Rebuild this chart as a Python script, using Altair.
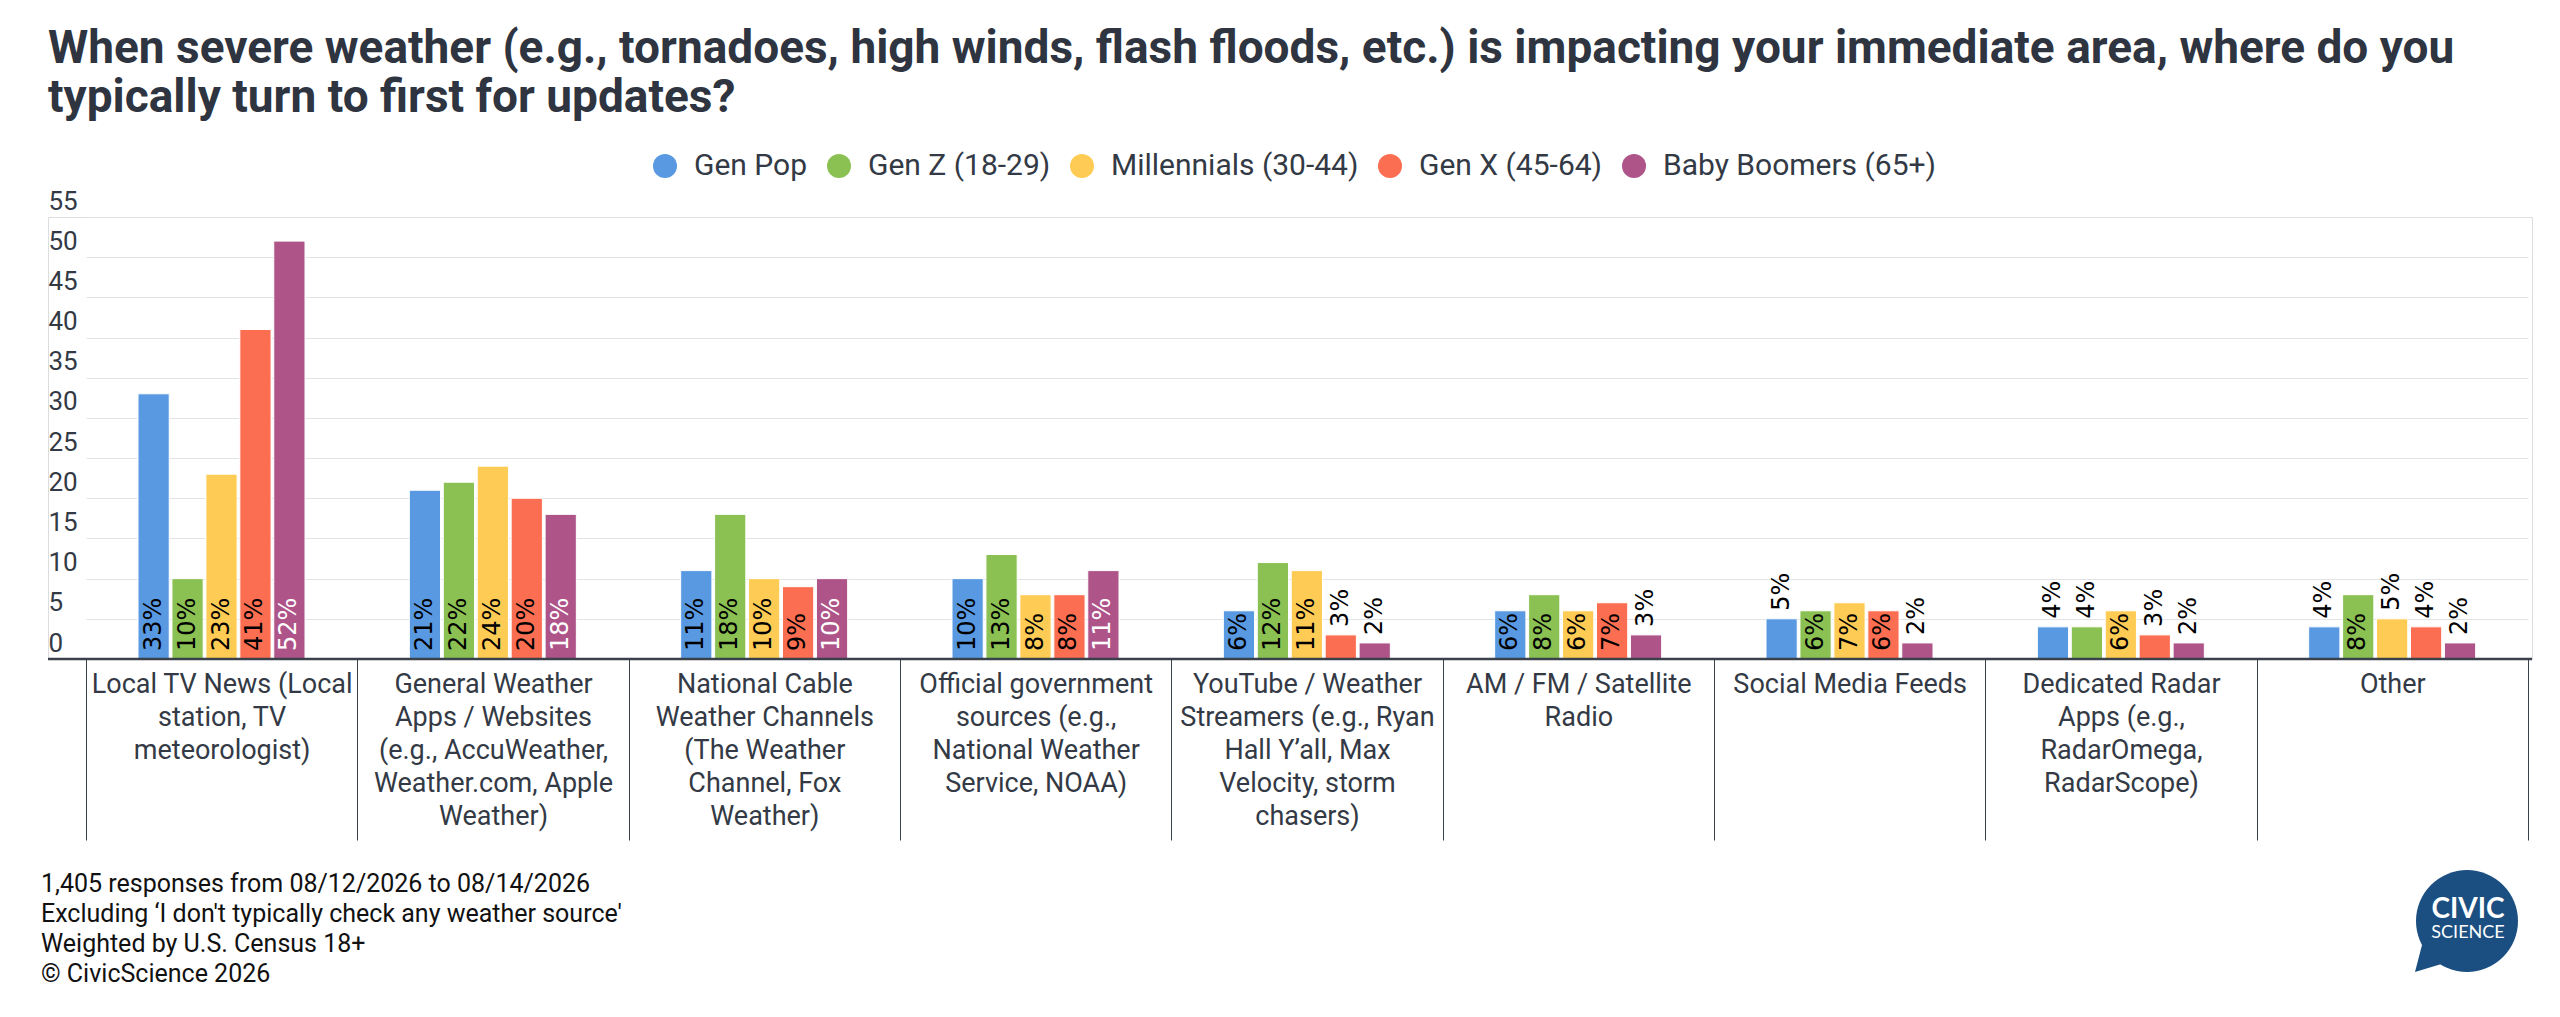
import json
import altair as alt
import pandas as pd

# ---------------- data ----------------
title_lines = [
    "When severe weather (e.g., tornadoes, high winds, flash floods, etc.) is impacting your immediate area, where do you",
    "typically turn to first for updates?",
]

categories = [
    "Local TV News (Local station, TV meteorologist)",
    "General Weather Apps / Websites (e.g., AccuWeather, Weather.com, Apple Weather)",
    "National Cable Weather Channels (The Weather Channel, Fox Weather)",
    "Official government sources (e.g., National Weather Service, NOAA)",
    "YouTube / Weather Streamers (e.g., Ryan Hall Y’all, Max Velocity, storm chasers)",
    "AM / FM / Satellite Radio",
    "Social Media Feeds",
    "Dedicated Radar Apps (e.g., RadarOmega, RadarScope)",
    "Other",
]
category_label_lines = [
    ["Local TV News (Local", "station, TV", "meteorologist)"],
    ["General Weather", "Apps / Websites", "(e.g., AccuWeather,", "Weather.com, Apple", "Weather)"],
    ["National Cable", "Weather Channels", "(The Weather", "Channel, Fox", "Weather)"],
    ["Official government", "sources (e.g.,", "National Weather", "Service, NOAA)"],
    ["YouTube / Weather", "Streamers (e.g., Ryan", "Hall Y’all, Max", "Velocity, storm", "chasers)"],
    ["AM / FM / Satellite", "Radio"],
    ["Social Media Feeds"],
    ["Dedicated Radar", "Apps (e.g.,", "RadarOmega,", "RadarScope)"],
    ["Other"],
]

series = ["Gen Pop", "Gen Z (18-29)", "Millennials (30-44)", "Gen X (45-64)", "Baby Boomers (65+)"]
series_colors = ["#5899E2", "#8BC052", "#FECC55", "#FC6E51", "#AE5489"]

gen_pop = [33, 21, 11, 10, 6, 6, 5, 4, 4]
gen_z = [10, 22, 18, 13, 12, 8, 6, 4, 8]
millennials = [23, 24, 10, 8, 11, 6, 7, 6, 5]
gen_x = [41, 20, 9, 8, 3, 7, 6, 3, 4]
baby_boomers = [52, 18, 10, 11, 2, 3, 2, 2, 2]

y_ticks = [0, 5, 10, 15, 20, 25, 30, 35, 40, 45, 50, 55]

footer_lines = [
    "1,405 responses from 08/12/2026 to 08/14/2026",
    "Excluding ‘I don't typically check any weather source'",
    "Weighted by U.S. Census 18+",
    "© CivicScience 2026",
]

# ---------------- table ----------------
rows = []
for s, vals in zip(series, [gen_pop, gen_z, millennials, gen_x, baby_boomers]):
    for c, v in zip(categories, vals):
        rows.append({"category": c, "series": s, "value": v})
df = pd.DataFrame(rows)

W, H = 2484, 442
TEXT = "#333a45"
DARK = "#3b414b"

label_map = json.dumps(dict(zip(categories, category_label_lines)), ensure_ascii=False)
label_expr = "(" + label_map + ")[datum.value]"

x_enc = alt.X(
    "category:N",
    sort=categories,
    scale=alt.Scale(range=[38, 2480], paddingInner=0, paddingOuter=0),
    axis=alt.Axis(
        title=None, domain=False, grid=False, ticks=True, tickBand="extent",
        tickSize=181, tickColor=DARK, tickWidth=1, labelAngle=0,
        labelAlign="center", labelBaseline="top", labelPadding=-169,
        labelFont="Roboto", labelFontSize=27, labelColor=TEXT,
        labelLineHeight=33, labelLimit=500, labelExpr=label_expr,
    ),
)
xo_enc = alt.XOffset(
    "series:N", sort=series,
    scale=alt.Scale(domain=series, range=[52, 219], paddingInner=0.08, paddingOuter=0),
)
y_scale = alt.Scale(domain=[0, 55], nice=False)
y_axis = alt.Axis(
    title=None, values=y_ticks, domain=False, ticks=False, grid=True,
    gridColor="#e2e3e7", gridWidth=1.2, labelAlign="left",
    labelBaseline="alphabetic", labelPadding=0, labelOffset=-8,
    labelFont="Roboto", labelFontSize=26, labelColor=TEXT,
    labelFlush=False, labelOverlap=False,
)

base = alt.Chart(df).transform_calculate(label="datum.value + '%'", zero="0")

bars = base.mark_bar(stroke="white", strokeWidth=1).encode(
    x=x_enc, xOffset=xo_enc,
    y=alt.Y("value:Q", scale=y_scale, axis=y_axis),
    color=alt.Color(
        "series:N", sort=series,
        scale=alt.Scale(domain=series, range=series_colors),
        legend=alt.Legend(
            orient="none", legendX=602, legendY=-66, direction="horizontal",
            columns=5, title=None, symbolType="circle", symbolSize=576,
            symbolStrokeWidth=0, symbolOpacity=1, labelFont="Roboto",
            labelFontSize=30, labelColor=TEXT, labelOffset=14,
            columnPadding=16, padding=0, labelLimit=600,
        ),
    ),
)

inside = base.transform_filter("datum.value >= 6").mark_text(
    angle=270, align="left", baseline="middle", dx=8,
    font="DejaVu Sans", fontSize=24,
).encode(
    x=x_enc, xOffset=xo_enc,
    y=alt.Y("zero:Q", scale=y_scale, axis=y_axis),
    text="label:N",
    color=alt.condition("datum.series == 'Baby Boomers (65+)'", alt.value("#ffffff"), alt.value("#000000")),
)

above = base.transform_filter("datum.value < 6").mark_text(
    angle=270, align="left", baseline="middle", dx=8,
    font="DejaVu Sans", fontSize=24, color="#000000",
).encode(
    x=x_enc, xOffset=xo_enc,
    y=alt.Y("value:Q", scale=y_scale, axis=y_axis),
    text="label:N",
)

zero_df = pd.DataFrame({"v": [0]})
baseline_rule = alt.Chart(zero_df).mark_rule(color=DARK, strokeWidth=2.5).encode(
    y=alt.Y("v:Q", scale=y_scale, axis=y_axis)
)

one = pd.DataFrame({"k": [0]})
footer = alt.Chart(one).mark_text(
    align="left", baseline="alphabetic", font="Roboto", fontSize=25,
    lineHeight=30, color="#111111",
).encode(x=alt.value(-7), y=alt.value(675), text=alt.value(footer_lines))

logo_circle = alt.Chart(one).mark_point(
    shape="circle", filled=True, opacity=1, color="#1b4f82", size=10404, strokeWidth=0
).encode(x=alt.value(2419), y=alt.value(704))
logo_tail = alt.Chart(one).mark_point(
    shape="M -0.75 0.7 L -0.4 -0.65 L 0.9 0.2 Z", filled=True, opacity=1,
    color="#1b4f82", size=1600, strokeWidth=0,
).encode(x=alt.value(2382), y=alt.value(741))
logo_civic = alt.Chart(one).mark_text(
    font="Lato", fontSize=28, fontWeight="bold", color="white", align="center",
    baseline="alphabetic",
).encode(x=alt.value(2420), y=alt.value(701), text=alt.value("CIVIC"))
logo_science = alt.Chart(one).mark_text(
    font="Lato", fontSize=18, color="white", align="center",
    baseline="alphabetic",
).encode(x=alt.value(2420), y=alt.value(721), text=alt.value("SCIENCE"))

chart = alt.layer(
    bars, inside, above, baseline_rule, footer,
    logo_tail, logo_circle, logo_civic, logo_science,
).properties(
    width=W, height=H,
    autosize=alt.AutoSizeParams(type="none"),
    padding={"left": 40, "top": 209, "right": 20, "bottom": 350},
    title=alt.TitleParams(
        text=title_lines, anchor="start", frame="group", orient="top",
        font="Roboto", fontSize=46, fontWeight="bold", color="#2e3440",
        lineHeight=49, offset=29,
    ),
).configure_view(stroke=None).configure(background="white")

chart.save("out.html", embed_options={"renderer": "svg", "actions": False})
